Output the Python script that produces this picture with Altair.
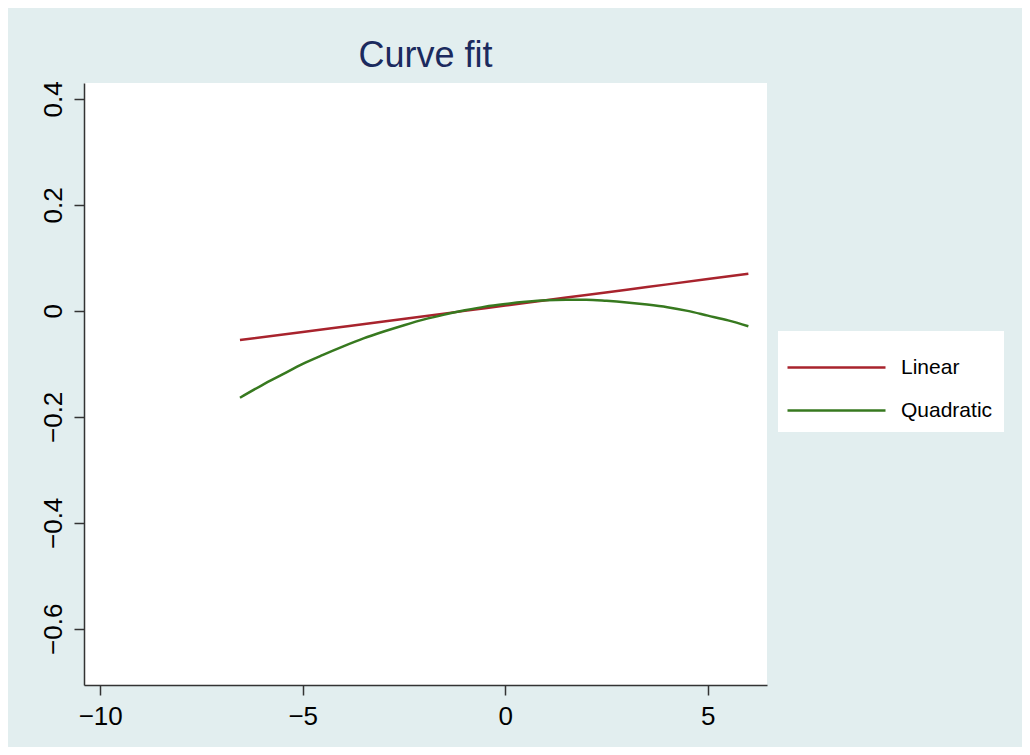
import altair as alt
import pandas as pd

# Values
series_names = ["Linear", "Quadratic"]
series_colors = ["#A8232D", "#37791F"]

lin_x = [-6.55, -5.0, -4.0, -3.0, -2.0, -1.0, 0.0, 1.0, 2.0, 3.0, 4.0, 5.0, 6.0]
lin_y = [-0.055, -0.040, -0.030, -0.020, -0.010, 0.000, 0.010, 0.020, 0.030, 0.040, 0.050, 0.060, 0.070]

quad_x = [-6.55, -6.0, -5.5, -5.0, -4.5, -4.0, -3.5, -3.0, -2.5, -2.0, -1.5, -1.0, -0.5,
          0.0, 0.5, 1.0, 1.5, 2.0, 2.5, 3.0, 3.5, 4.0, 4.5, 5.0, 5.5, 6.0]
quad_y = [-0.164, -0.140, -0.120, -0.100, -0.083, -0.067, -0.052, -0.039, -0.027, -0.016,
          -0.007, 0.001, 0.008, 0.013, 0.017, 0.020, 0.021, 0.021, 0.019, 0.016,
          0.012, 0.007, 0.000, -0.009, -0.018, -0.029]

x_ticks = [-10, -5, 0, 5]
y_ticks = [-0.6, -0.4, -0.2, 0, 0.2, 0.4]
x_domain = [-10.4, 6.46]
y_domain = [-0.706, 0.430]

df = pd.concat([
    pd.DataFrame({"x": lin_x, "y": lin_y, "series": "Linear", "order": range(len(lin_x))}),
    pd.DataFrame({"x": quad_x, "y": quad_y, "series": "Quadratic", "order": range(len(quad_x))}),
])

FONT = "Liberation Sans"

chart = alt.Chart(df).mark_line(strokeWidth=2.5, interpolate="monotone").encode(
    x=alt.X("x:Q", scale=alt.Scale(domain=x_domain, nice=False, zero=False),
            axis=alt.Axis(values=x_ticks, format="d", title=None, grid=False,
                          tickSize=10, labelPadding=8, labelFontSize=26,
                          labelFont=FONT, labelColor="#000000",
                          domainColor="#333333", tickColor="#333333",
                          domainWidth=1.5, tickWidth=1.5, labelFlush=False)),
    y=alt.Y("y:Q", scale=alt.Scale(domain=y_domain, nice=False, zero=False),
            axis=alt.Axis(values=y_ticks, format="~g", title=None, grid=False,
                          tickSize=10, labelPadding=8, labelFontSize=26,
                          labelFont=FONT, labelColor="#000000", labelAngle=-90,
                          labelAlign="center", labelBaseline="bottom",
                          domainColor="#333333", tickColor="#333333",
                          domainWidth=1.5, tickWidth=1.5, labelFlush=False)),
    color=alt.Color("series:N",
                    scale=alt.Scale(domain=series_names, range=series_colors),
                    legend=alt.Legend(title=" ", titleFontSize=6, titlePadding=8,
                                      orient="none", legendX=694, legendY=248,
                                      fillColor="#FFFFFF", padding=11,
                                      symbolType="M-1.3,0H8.5", symbolSize=400,
                                      symbolStrokeWidth=2.5, labelFontSize=21,
                                      labelFont=FONT, labelColor="#000000",
                                      rowPadding=21, labelOffset=89)),
    order="order:Q",
).properties(
    width=683,
    height=602,
    title=alt.TitleParams("Curve fit", fontSize=36, font=FONT, fontWeight="normal",
                          color="#1B2A5E", anchor="middle", offset=6),
    autosize=alt.AutoSizeParams(type="none"),
    padding={"left": 76, "top": 75, "right": 255, "bottom": 62},
).configure(
    background="#E2EEEF",
).configure_view(
    fill="#FFFFFF",
    stroke=None,
)

chart.save("out.html", embed_options={"renderer": "svg", "actions": False})
